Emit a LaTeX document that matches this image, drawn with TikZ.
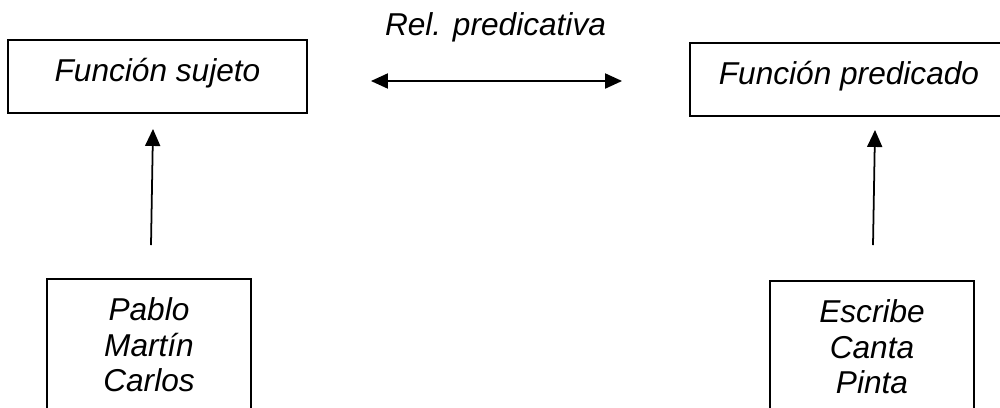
\documentclass[tikz,border=0pt]{standalone}
\usepackage{fontspec}
\setmainfont{Liberation Sans}
\usetikzlibrary{arrows.meta}
\usetikzlibrary{positioning}
\usetikzlibrary{calc}
\tikzstyle{caja}=[rectangle,draw,line width=1.1pt,inner sep=0pt,minimum height=1.46cm,text height=0.5cm,text depth=0.32cm,font=\fontsize{18}{20}\selectfont\itshape]
\tikzstyle{lista}=[rectangle,draw,line width=1.1pt,align=center,inner xsep=0pt,inner ysep=0.38cm,minimum width=4.08cm,text depth=3cm,anchor=north,font=\fontsize{18}{20}\selectfont\itshape]
\tikzstyle{flecha}=[draw,line width=1pt,-{Triangle[length=0.34cm,width=0.3cm]}]
\tikzstyle{flechas}=[draw,line width=1.1pt,{Triangle[length=0.34cm,width=0.3cm]}-{Triangle[length=0.34cm,width=0.3cm]}]
\tikzstyle{etiqueta}=[font=\fontsize{18}{20}\selectfont\itshape]

\begin{document}
\begin{tikzpicture}[x=0.02cm,y=-0.02cm]

  \useasboundingbox (0,0) rectangle (1000,407);
  \clip (0,0) rectangle (1000,407);

   \foreach \x/\y/\w/\name/\label in { 157.5/76.5/5.98/sujeto/{Función sujeto}, 849/79.5/6.36/predicado/{Función predicado} }
          \node[caja, minimum width=\w cm] (\name) at (\x, \y) {\label};

   \node[lista] (nombres) at (149, 278) {Pablo\\Martín\\Carlos};
   \node[lista] (verbos) at (872, 280) {Escribe\\Canta\\Pinta};

   \node[etiqueta, anchor=base] (rel) at (495.5, 35) {Rel. predicativa};

   \draw[flechas] ($(sujeto.east)+(63,4.5)$) -- ($(predicado.west)+(-67,1.5)$);

   \draw[flecha] ($(nombres.north)+(2,-33)$) -- ($(sujeto.south)+(-4.5,15)$);
   \draw[flecha] ($(verbos.north)+(1,-35)$) -- ($(predicado.south)+(26,13)$);

\end{tikzpicture}
\end{document}
